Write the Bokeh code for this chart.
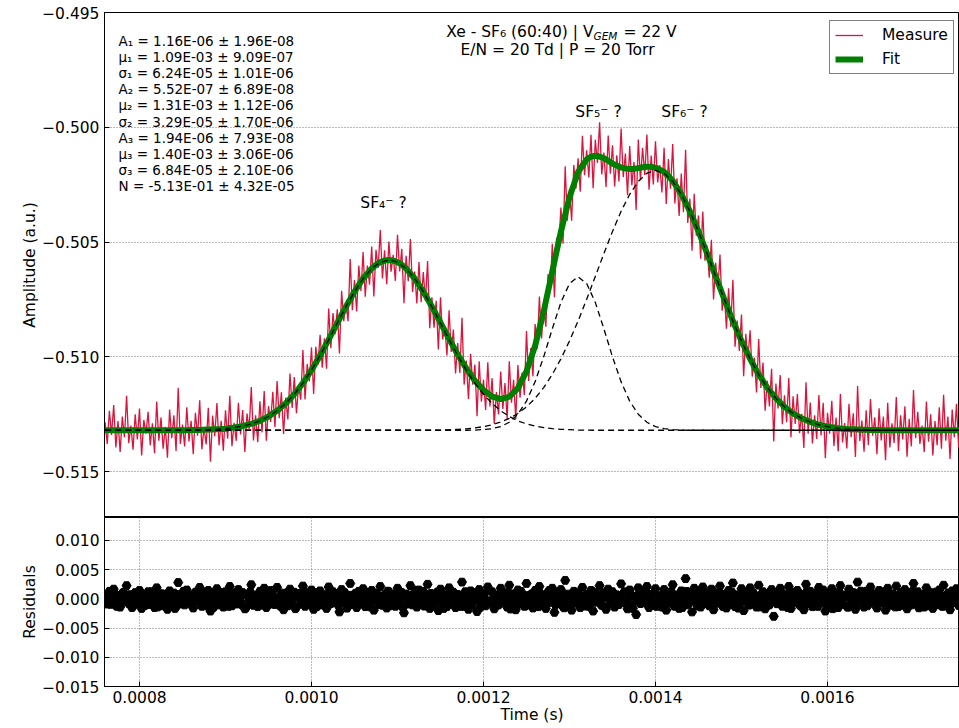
import numpy as np
from bokeh.plotting import figure
from bokeh.layouts import column
from bokeh.models import (Range1d, FixedTicker, CustomJSTickFormatter, Label,
                          Legend, LegendItem)
from bokeh.embed import file_html
from bokeh.resources import INLINE

# ---------------------------------------------------------------- data
# amplitudes are given in units of 1e-5 a.u., relative to the fitted baseline N
BASELINE = -0.5132

# time grid (microseconds) of the fit components
T_FIT_US = list(range(760, 1770, 10))

# Gaussian component 1 (SF4-), 2 (SF5-), 3 (SF6-)
G1 = [0, 0, 0, 0, 0, 0, 0, 0, 0, 0,
      1, 1, 3, 4, 7, 12, 18, 28, 41, 60,
      85, 117, 157, 205, 262, 326, 395, 467, 538, 604,
      661, 705, 732, 742, 732, 705, 661, 604, 538, 467,
      395, 326, 262, 205, 157, 117, 85, 60, 41, 28,
      18, 12, 7, 4, 3, 1, 1, 0, 0, 0,
      0, 0, 0, 0, 0, 0, 0, 0, 0, 0,
      0, 0, 0, 0, 0, 0, 0, 0, 0, 0,
      0, 0, 0, 0, 0, 0, 0, 0, 0, 0,
      0, 0, 0, 0, 0, 0, 0, 0, 0, 0,
      0]
G2 = [0, 0, 0, 0, 0, 0, 0, 0, 0, 0,
      0, 0, 0, 0, 0, 0, 0, 0, 0, 0,
      0, 0, 0, 0, 0, 0, 0, 0, 0, 0,
      0, 0, 0, 0, 0, 0, 0, 0, 0, 0,
      0, 0, 0, 1, 3, 7, 16, 35, 70, 127,
      211, 320, 442, 557, 639, 669, 639, 557, 442, 320,
      211, 127, 70, 35, 16, 7, 3, 1, 0, 0,
      0, 0, 0, 0, 0, 0, 0, 0, 0, 0,
      0, 0, 0, 0, 0, 0, 0, 0, 0, 0,
      0, 0, 0, 0, 0, 0, 0, 0, 0, 0,
      0]
G3 = [0, 0, 0, 0, 0, 0, 0, 0, 0, 0,
      0, 0, 0, 0, 0, 0, 0, 0, 0, 0,
      0, 0, 0, 0, 0, 0, 0, 0, 0, 0,
      0, 0, 0, 0, 0, 0, 0, 1, 1, 1,
      2, 4, 6, 10, 16, 24, 36, 52, 73, 102,
      139, 186, 243, 311, 389, 476, 571, 670, 770, 866,
      954, 1028, 1084, 1120, 1132, 1120, 1084, 1028, 954, 866,
      770, 670, 571, 476, 389, 311, 243, 186, 139, 102,
      73, 52, 36, 24, 16, 10, 6, 4, 2, 1,
      1, 0, 0, 0, 0, 0, 0, 0, 0, 0,
      0]

# measurement sampling (microseconds)
MEAS_T0_US = 760.0
MEAS_STEP_US = 2.5

# total fit (green curve) at every measurement sample
FIT = [0, 0, 0, 0, 0, 0, 0, 0, 0, 0, 0, 0, 0, 0, 0, 0, 0, 0, 0, 0,
       0, 0, 0, 0, 0, 0, 0, 0, 0, 0, 0, 0, 0, 0, 0, 0, 0, 0, 0, 1,
       1, 1, 1, 1, 1, 2, 2, 3, 3, 3, 4, 4, 4, 5, 6, 6, 7, 8, 10, 11,
       12, 14, 15, 17, 18, 21, 23, 26, 28, 31, 35, 38, 41, 46, 51, 55, 60, 66, 73, 79,
       85, 93, 101, 109, 117, 127, 137, 147, 157, 169, 181, 193, 205, 219, 234, 248,
       262, 278, 294, 310, 326, 343, 361, 378, 395, 413, 431, 449, 467, 485, 503, 520,
       538, 555, 571, 588, 604, 618, 633, 647,
       661, 672, 683, 694, 705, 713, 721, 727, 732, 736, 739, 741, 742, 741, 739, 736,
       732, 727, 721, 713, 705, 694, 683, 672, 661, 647, 633, 618, 604, 588, 572, 555,
       539, 522, 504, 487, 469, 451, 434, 416,
       398, 381, 364, 347, 330, 315, 300, 284, 269, 256, 243, 229, 216, 206, 196, 185,
       175, 168, 161, 154, 147, 144, 142, 139, 136, 138, 141, 143, 146, 155, 165, 174,
       184, 202, 221, 239, 257, 285, 313, 340,
       368, 405, 443, 480, 517, 561, 605, 648, 692, 735, 779, 822, 865, 903, 940, 978,
       1015, 1043, 1070, 1098, 1125, 1139, 1153, 1166, 1180, 1186, 1192, 1194,
       1196, 1195, 1192, 1189, 1185, 1180, 1174, 1168, 1162, 1157, 1153, 1149,
       1145, 1143, 1141, 1139, 1138, 1138, 1139, 1140, 1142, 1144, 1146, 1147,
       1148, 1148, 1147, 1146, 1144, 1140, 1135, 1131, 1126, 1116, 1107, 1097,
       1087, 1073, 1058, 1044, 1029, 1010, 992, 973, 954, 932, 910, 888, 866, 842, 818, 794,
       770, 745, 720, 695, 670, 645, 621, 596, 571, 547, 524, 500, 476, 454, 433, 411,
       389, 370, 350, 331, 311, 294, 277, 260, 243, 229, 215, 200, 186, 174, 163, 151,
       139, 130, 121, 111, 102, 95, 88, 80,
       73, 68, 63, 57, 52, 48, 44, 40, 36, 33, 30, 27, 24, 22, 20, 18, 16, 15, 13, 12,
       10, 9, 8, 7, 6, 6, 5, 5, 4, 4, 3, 3, 2, 2, 2, 1, 1, 1, 1, 1,
       1, 1, 0, 0, 0, 0, 0, 0, 0, 0, 0, 0, 0, 0, 0, 0, 0, 0, 0, 0,
       0, 0, 0, 0, 0, 0, 0, 0, 0, 0, 0, 0, 0, 0, 0, 0, 0, 0, 0, 0]

# deviation of the measured trace (red) from the fit, at every measurement sample
MEAS_DEV = [35, -60, 85, -20, 110, -75, 40, -95, 60, -30, 150, -55, 20, -85, 70, -40, 95, -110, 45, -15,
            80, -65, 30, -100, 125, -45, 55, -80, 15, -120, 90, -35, 65, -90, 185, -60, 25, -70, 100, -50,
            40, -105, 75, -25, 130, -85, 10, -65, 95, -140, 60, -30, 115, -70, 35, -95, 80, -45, 140, -80,
            20, -60, 105, -35, 70, -115, 50, -20, 160, -75, 30, -90, 85, -55, 120, -100, 45, -30, 95, -65,
            130, -40, 65, -125, 25, -80, 110, -50, 75, -95, 15, -60, 145, -85, 55, -35, 100, -120, 70, -25,
            90, -70, 40, -110, 135, -55, 80, -30, 60, -150, 105, -45, 20, -80, 175, -65, 50, -100, 85, -40,
            115, -90, 35, -60, 95, -130, 65, -20, 140, -75, 45, -105, 80, -50, 25, -85, 120, -35, 70, -160,
            55, -45, 150, -70, 30, -95, 100, -60, 85, -25, 165, -110, 40, -75, 60, -135, 110, -55, 20, -90,
            125, -40, 75, -100, 50, -65, 190, -85, 35, -120, 90, -30, 70, -145, 105, -60, 45, -80, 135, -50,
            80, -115, 25, -70, 120, -45, 65, -95, 155, -35, 55, -125, 100, -60, 30, -85, 175, -70, 45, -105,
            95, -50, 140, -80, 20, -110, 75, -40, 120, -155, 60, -25, 105, -90, 210, -65, 35, -130, 85, -45,
            60, -100, 130, -55, 40, -85, 95, -140, 70, -30, 150, -75, 25, -120, 110, -50, 80, -95, 45, -65,
            170, -40, 65, -115, 100, -70, 30, -180, 125, -55, 85, -35, 140, -100, 50, -75, 115, -60, 20, -95,
            105, -130, 75, -45, 160, -85, 40, -110, 90, -60, 230, -70, 55, -150, 120, -40, 70, -95, 135, -55,
            35, -80, 110, -125, 60, -30, 145, -75, 25, -105, 95, -50, 180, -90, 45, -65, 115, -135, 70, -20,
            125, -60, 40, -95, 155, -45, 80, -115, 30, -70, 105, -200, 65, -35, 120, -85, 50, -60, 140, -110,
            75, -40, 95, -70, 20, -125, 165, -55, 85, -90, 35, -65, 130, -45, 100, -140, 60, -30, 115, -80,
            45, -100, 150, -60, 25, -85, 110, -35, 70, -120, 190, -50, 40, -95, 85, -65, 135, -25, 55, -105,
            95, -45, 60, -130, 120, -75, 30, -55, 145, -90, 65, -40, 105, -115, 50, -70, 175, -35, 80, -60,
            20, -95, 125, -50, 70, -110, 40, -65, 100, -80, 155, -45, 60, -125, 90, -30, 115, -75, 35, -55]

# residuals shown in the lower panel (units of 1e-5): samples on the measurement grid ...
RESID = [52, -90, 128, -30, 165, -112, 60, -142, 90, -45, 225, -82, 30, -128, 105, -60, 142, -165, 68, -22,
         120, -98, 45, -150, 188, -68, 82, -120, 22, -180, 135, -52, 98, -135, 278, -90, 38, -105, 150, -75,
         60, -158, 112, -38, 195, -128, 15, -98, 142, -210, 90, -45, 172, -105, 52, -142, 120, -68, 210, -120,
         30, -90, 158, -52, 105, -172, 75, -30, 240, -112, 45, -135, 128, -82, 180, -150, 68, -45, 142, -98,
         195, -60, 98, -188, 38, -120, 165, -75, 112, -142, 22, -90, 218, -128, 82, -52, 150, -180, 105, -38,
         135, -105, 60, -165, 202, -82, 120, -45, 90, -225, 158, -68, 30, -120, 262, -98, 75, -150, 128, -60,
         172, -135, 52, -90, 142, -195, 98, -30, 210, -112, 68, -158, 120, -75, 38, -128, 180, -52, 105, -240,
         82, -68, 225, -105, 45, -142, 150, -90, 128, -38, 248, -165, 60, -112, 90, -202, 165, -82, 30, -135,
         188, -60, 112, -150, 75, -98, 285, -128, 52, -180, 135, -45, 105, -218, 158, -90, 68, -120, 202, -75,
         120, -172, 38, -105, 180, -68, 98, -142, 232, -52, 82, -188, 150, -90, 45, -128, 262, -105, 68, -158,
         142, -75, 210, -120, 30, -165, 112, -60, 180, -232, 90, -38, 158, -135, 315, -98, 52, -195, 128, -68,
         90, -150, 195, -82, 60, -128, 142, -210, 105, -45, 225, -112, 38, -180, 165, -75, 120, -142, 68, -98,
         255, -60, 98, -172, 150, -105, 45, -270, 188, -82, 128, -52, 210, -150, 75, -112, 172, -90, 30, -142,
         158, -195, 112, -68, 240, -128, 60, -165, 135, -90, 345, -105, 82, -225, 180, -60, 105, -142, 202, -82,
         52, -120, 165, -188, 90, -45, 218, -112, 38, -158, 142, -75, 270, -135, 68, -98, 172, -202, 105, -30,
         188, -90, 60, -142, 232, -68, 120, -172, 45, -105, 158, -300, 98, -52, 180, -128, 75, -90, 210, -165,
         112, -60, 142, -105, 30, -188, 248, -82, 128, -135, 52, -98, 195, -68, 150, -210, 90, -45, 172, -120,
         68, -150, 225, -90, 38, -128, 165, -52, 105, -180, 285, -75, 60, -142, 128, -98, 202, -38, 82, -158,
         142, -68, 90, -195, 180, -112, 45, -82, 218, -135, 98, -60, 158, -172, 75, -105, 262, -52, 120, -90,
         30, -142, 188, -75, 105, -165, 60, -98, 150, -120, 232, -68, 90, -188, 135, -45, 172, -112, 52, -82]

# ... and samples half-way between them
RESID_B = [-20, 45, -95, 10, 80, -130, 30, -60, 110, -5, -45, 70, -150, 25, 95, -80, 0, 55, -115, 35,
           -70, 120, -25, 60, -140, 15, 85, -55, -10, 100, -90, 40, -165, 20, 75, -35, 130, -75, 5, 50,
           -105, 30, 90, -15, -60, 115, -120, 10, 65, -40, -145, 80, 25, -85, 105, -20, 45, -130, 60, -5,
           95, -50, 15, -100, 70, -155, 35, 120, -30, -75, 50, 0, -110, 85, -45, 20, 140, -90, 30, -65,
           10, -125, 75, -35, 100, -15, -80, 55, -170, 40, 90, -55, 5, 115, -100, 25, -40, 65, -135, 15,
           80, -20, -95, 45, 125, -60, 0, 70, -115, 30, -50, 105, -160, 20, 60, -30, 95, -85, 35, -10,
           -70, 110, 15, -140, 50, -25, 85, -100, 40, 5, -60, 130, -120, 25, 75, -45, -5, 100, -150, 55,
           20, -90, 65, -30, 145, -75, 10, 55, -125, 35, -15, 90, -105, 0, 115, -55, 40, -165, 70, -20,
           100, -40, -85, 30, 60, -130, 25, 120, -65, 5, -110, 75, -25, 50, -145, 85, 15, -70, 135, -35,
           -5, 65, -100, 40, 95, -55, -20, 110, -175, 30, 70, -90, 10, 125, -45, -120, 55, 0, 85, -60,
           35, -135, 90, -15, 50, -80, 140, -30, 20, -105, 65, -50, 105, -155, 25, 80, -70, 5, 115, -40,
           -95, 45, 10, -125, 75, -20, 130, -60, 35, -5, -90, 100, -140, 15, 60, -35, 90, -110, 45, 0,
           -55, 120, -85, 25, 70, -165, 40, -15, 95, -70, 10, 135, -100, 30, -45, 80, -130, 55, 20, -25,
           85, -60, 0, 110, -115, 45, -35, 75, -150, 15, 125, -80, 35, -10, 95, -125, 60, -40, 105, -5,
           -75, 30, 140, -95, 20, -50, 85, -135, 45, 5, -65, 115, -20, 60, -160, 25, 90, -40, 70, -110,
           15, 100, -55, 35, -140, 80, -10, 55, -100, 125, -30, 40, -85, 5, 110, -70, 20, -150, 65, -25,
           90, -45, 10, -120, 75, -5, 135, -80, 30, -60, 100, -130, 50, -15, 85, -105, 25, 60, -170, 40,
           -35, 115, -90, 20, 65, -145, 45, -10, 95, -75, 5, 130, -55, 35, -120, 80, -25, 50, -100, 10,
           70, -65, 120, -30, -95, 40, 85, -140, 15, -50, 105, -110, 55, 0, -80, 125, -40, 30, -155, 60,
           -15, 90, -120, 45, 10, -70, 115, -35, 65, -130, 25, -5, 100, -90, 40, -60, 135, -115, 20, -45]

# ticks
Y_TICKS_MAIN = [-0.515, -0.510, -0.505, -0.500, -0.495]
Y_TICKS_RES = [-0.015, -0.010, -0.005, 0.0, 0.005, 0.010]
X_TICKS = [0.0008, 0.0010, 0.0012, 0.0014, 0.0016]

# texts
PARAM_LINES = [
    "A\u2081 = 1.16E-06 \u00b1 1.96E-08",
    "\u03bc\u2081 = 1.09E-03 \u00b1 9.09E-07",
    "\u03c3\u2081 = 6.24E-05 \u00b1 1.01E-06",
    "A\u2082 = 5.52E-07 \u00b1 6.89E-08",
    "\u03bc\u2082 = 1.31E-03 \u00b1 1.12E-06",
    "\u03c3\u2082 = 3.29E-05 \u00b1 1.70E-06",
    "A\u2083 = 1.94E-06 \u00b1 7.93E-08",
    "\u03bc\u2083 = 1.40E-03 \u00b1 3.06E-06",
    "\u03c3\u2083 = 6.84E-05 \u00b1 2.10E-06",
    "N = -5.13E-01 \u00b1 4.32E-05",
]
PEAK_LABELS = ["SF\u2084\u207b ?", "SF\u2085\u207b ?", "SF\u2086\u207b ?"]
TITLE_1A = "Xe - SF\u2086 (60:40) | V"
TITLE_1SUB = "GEM"
TITLE_1B = "= 22 V"
TITLE_2 = "E/N = 20 Td | P = 20 Torr"

# ---------------------------------------------------------------- derived arrays
assert len(FIT) == len(RESID) == len(MEAS_DEV) == len(RESID_B) == 400
t_fit = np.array(T_FIT_US) * 1e-6
t_meas = (MEAS_T0_US + MEAS_STEP_US * np.arange(len(FIT))) * 1e-6
t_half = t_meas + 0.5 * MEAS_STEP_US * 1e-6
fit = BASELINE + np.array(FIT) * 1e-5
measure = BASELINE + (np.array(FIT) + np.array(MEAS_DEV)) * 1e-5
resid_t = np.concatenate([t_meas, t_half])
resid = np.concatenate([np.array(RESID), np.array(RESID_B)]) * 1e-5
comps = [BASELINE + np.array(g) * 1e-5 for g in (G1, G2, G3)]

# ---------------------------------------------------------------- layout
W = 959
H1 = 517
H2 = 211
BL = 104
TOP = 12
X_RANGE = (0.0007593, 0.0017535)
Y_MAIN = (-0.517, -0.495)
Y_RES = (-0.015, 0.0139)
FONT = "DejaVu Sans"


def px_to_data(px, py):
    fw, fh = W - BL, H1 - TOP
    x = X_RANGE[0] + (px - BL) / fw * (X_RANGE[1] - X_RANGE[0])
    y = Y_MAIN[1] - (py - TOP) / fh * (Y_MAIN[1] - Y_MAIN[0])
    return x, y


def style_axis(ax, label, fmt_digits):
    ax.axis_label = label
    ax.axis_label_text_font = FONT
    ax.axis_label_text_font_size = "15.5px"
    ax.axis_label_text_font_style = "normal"
    ax.axis_label_text_color = "black"
    ax.major_label_text_font = FONT
    ax.major_label_text_font_size = "15.5px"
    ax.major_label_text_color = "black"
    ax.major_tick_in = 5
    ax.major_tick_out = 0
    ax.major_tick_line_color = "black"
    ax.minor_tick_line_color = None
    ax.axis_line_color = "black"
    ax.formatter = CustomJSTickFormatter(
        code="const s = Math.abs(tick).toFixed(%d); return (tick < -1e-12 ? '\u2212' : '') + s;" % fmt_digits)


def style_fig(p):
    p.outline_line_color = "black"
    p.outline_line_width = 1
    p.background_fill_color = "white"
    p.border_fill_color = "white"


# ---- main panel
p1 = figure(width=W, height=H1, x_range=Range1d(*X_RANGE), y_range=Range1d(*Y_MAIN),
            output_backend="svg", toolbar_location=None, x_axis_location=None,
            min_border_left=BL, min_border_right=0, min_border_top=TOP, min_border_bottom=0)
style_fig(p1)
p1.xgrid.visible = False
p1.yaxis.ticker = FixedTicker(ticks=Y_TICKS_MAIN, minor_ticks=[])
style_axis(p1.yaxis[0], "Amplitude (a.u.)", 3)
p1.yaxis.axis_label_standoff = 0
p1.ygrid.grid_line_color = "#777777"
p1.ygrid.grid_line_dash = "1 2"
p1.ygrid.grid_line_width = 1

r_meas = p1.line(t_meas, measure, line_color="#DC143C", line_width=1.3)
r_fit = p1.line(t_meas, fit, line_color="#008000", line_width=6)
for c in comps:
    p1.line(t_fit, c, line_color="black", line_width=1.3, line_dash="6 4")

legend = Legend(items=[LegendItem(label="Measure", renderers=[r_meas]),
                       LegendItem(label="Fit", renderers=[r_fit])],
                location=(725, 443), padding=5, spacing=6, margin=0,
                glyph_width=28, glyph_height=18, label_height=18, label_standoff=19,
                label_text_font=FONT, label_text_font_size="15.5px", label_text_color="black",
                border_line_color="black", border_line_width=1,
                background_fill_color="white", background_fill_alpha=1)
p1.add_layout(legend)


def add_text(px, py, text, size="15.5px", align="left", style="normal"):
    x, y = px_to_data(px, py)
    p1.add_layout(Label(x=x, y=y, text=text, text_font=FONT, text_font_size=size,
                        text_font_style=style, text_align=align, text_baseline="middle",
                        text_color="black"))


for i, s in enumerate(PARAM_LINES):
    add_text(118, 40 + 16.2 * i, s, size="13.5px")

add_text(593, 31, TITLE_1A, align="right")
add_text(593, 35, TITLE_1SUB, size="10.5px", style="italic")
add_text(623, 31, TITLE_1B)
add_text(557, 49, TITLE_2, align="center")

add_text(383, 202, PEAK_LABELS[0], align="center")
add_text(598, 111, PEAK_LABELS[1], align="center")
add_text(684, 111, PEAK_LABELS[2], align="center")

# ---- residual panel
p2 = figure(width=W, height=H2, x_range=p1.x_range, y_range=Range1d(*Y_RES),
            output_backend="svg", toolbar_location=None,
            min_border_left=BL, min_border_right=0, min_border_top=0, min_border_bottom=H2 - 169)
style_fig(p2)
p2.xaxis.ticker = FixedTicker(ticks=X_TICKS, minor_ticks=[])
p2.yaxis.ticker = FixedTicker(ticks=Y_TICKS_RES, minor_ticks=[])
style_axis(p2.yaxis[0], "Residuals", 3)
style_axis(p2.xaxis[0], "Time (s)", 4)
p2.yaxis.axis_label_standoff = 0
p2.xaxis.major_label_standoff = 4
p2.xaxis.axis_label_standoff = 0
for g in (p2.xgrid, p2.ygrid):
    g.grid_line_color = "#777777"
    g.grid_line_dash = "1 2"
    g.grid_line_width = 1

p2.scatter(resid_t, resid, marker="hex", size=9, fill_color="black", line_color="black")

layout = column(p1, p2)
open("out.html", "w").write(file_html(layout, INLINE))
